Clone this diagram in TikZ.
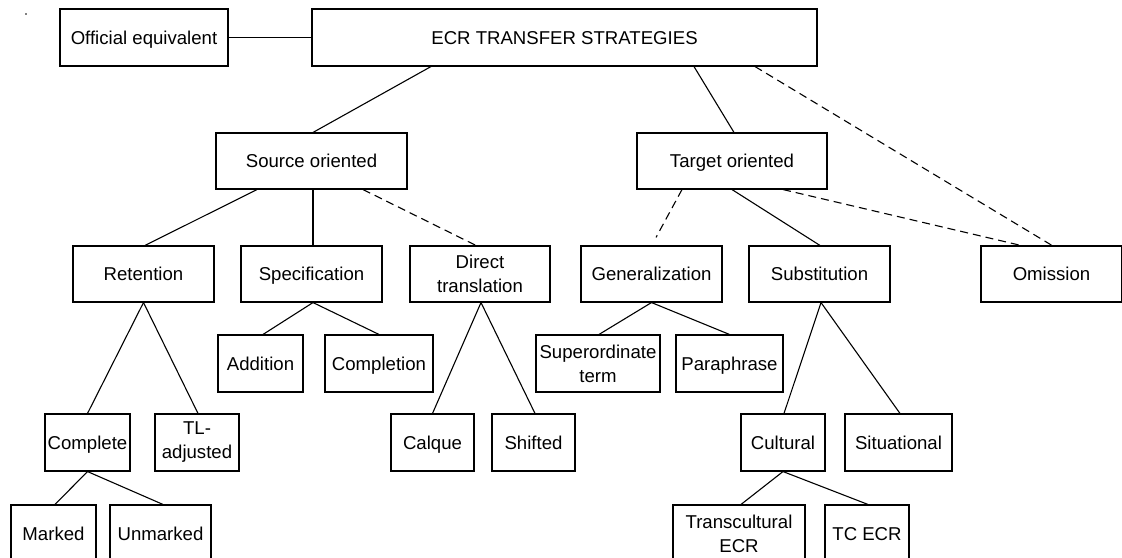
\documentclass[tikz,border=0pt]{standalone}
\usepackage{fontspec}
\setmainfont{Liberation Sans}
\begin{document}
\begin{tikzpicture}[x=1pt,y=-1pt,
  mbox/.style={draw, line width=1.1pt, inner sep=0pt, align=center, font=\fontsize{18.6}{24}\selectfont},
  sbox/.style={mbox, text height=13.4pt, text depth=0pt},
  link/.style={line width=1.1pt},
  dlink/.style={link, dash pattern=on 8pt off 5pt}]
\useasboundingbox (0,0) rectangle (1122,557);
\clip (0,0) rectangle (1122,557);
\fill (26,14) circle (0.8pt);
% row 0
\node[sbox, minimum width=168pt, minimum height=57pt] (off) at (144,37.5) {Official equivalent};
\node[sbox, minimum width=505pt, minimum height=57pt] (ecr) at (564.5,37.5) {ECR TRANSFER STRATEGIES};
% row 1
\node[sbox, minimum width=191pt, minimum height=56pt] (src) at (311.5,161) {Source oriented};
\node[sbox, minimum width=190pt, minimum height=56pt] (tgt) at (732,161) {Target oriented};
% row 2
\node[sbox, minimum width=141pt, minimum height=56pt] (ret) at (143.5,274) {Retention};
\node[sbox, minimum width=141pt, minimum height=56pt] (spec) at (311.5,274) {Specification};
\node[mbox, minimum width=140pt, minimum height=56pt] (dir) at (480,274) {Direct\\translation};
\node[sbox, minimum width=141pt, minimum height=56pt] (gen) at (651.5,274) {Generalization};
\node[sbox, minimum width=141pt, minimum height=56pt] (sub) at (819.5,274) {Substitution};
\node[sbox, minimum width=141pt, minimum height=56pt] (omi) at (1051.5,274) {Omission};
% row 3
\node[sbox, minimum width=85pt, minimum height=57pt] (add) at (260.5,363.5) {Addition};
\node[sbox, minimum width=108pt, minimum height=57pt] (comp) at (379,363.5) {Completion};
\node[mbox, minimum width=124pt, minimum height=57pt] (sup) at (598,363.5) {Superordinate\\term};
\node[sbox, minimum width=107pt, minimum height=57pt] (para) at (729.5,363.5) {Paraphrase};
% row 4
\node[sbox, minimum width=85pt, minimum height=57pt] (cplt) at (87.5,442.5) {Complete};
\node[mbox, minimum width=84pt, minimum height=57pt] (tla) at (197,442.5) {TL-\\adjusted};
\node[sbox, minimum width=83pt, minimum height=57pt] (calq) at (432.5,442.5) {Calque};
\node[sbox, minimum width=83pt, minimum height=57pt] (shif) at (533.5,442.5) {Shifted};
\node[sbox, minimum width=84pt, minimum height=57pt] (cult) at (783,442.5) {Cultural};
\node[sbox, minimum width=107pt, minimum height=57pt] (sit) at (898.5,442.5) {Situational};
% row 5
\node[sbox, minimum width=85pt, minimum height=57pt] (mark) at (53.5,533.5) {Marked};
\node[sbox, minimum width=101pt, minimum height=57pt] (unm) at (160.5,533.5) {Unmarked};
\node[mbox, minimum width=132pt, minimum height=57pt] (trc) at (739,533.5) {Transcultural\\ECR};
\node[sbox, minimum width=84pt, minimum height=57pt] (tce) at (867,533.5) {TC ECR};
% connectors
\draw[link] (off.east) -- (ecr.west);
\draw[link] ([xshift=-133.5pt]ecr.south) -- ([xshift=1.5pt]src.north);
\draw[link] ([xshift=129.5pt]ecr.south) -- ([xshift=2pt]tgt.north);
\draw[dlink] ([xshift=190.5pt]ecr.south) -- ([xshift=0.5pt]omi.north);
\draw[link] ([xshift=-54.5pt]src.south) -- ([xshift=1.5pt]ret.north);
\draw[link] ([xshift=1.5pt]src.south) -- ([xshift=1.5pt]spec.north);
\draw[dlink] ([xshift=51.5pt]src.south) -- ([xshift=-4pt]dir.north);
\coordinate (genend) at ([xshift=4.5pt,yshift=8pt]gen.north);
\draw[dlink] ([xshift=-50pt]tgt.south) -- (genend);
\draw[link] (tgt.south) -- ([xshift=0.5pt]sub.north);
\draw[dlink] ([xshift=51pt]tgt.south) -- ([xshift=-30.5pt]omi.north);
\draw[link] (ret.south) -- (cplt.north);
\draw[link] (ret.south) -- ([xshift=1pt]tla.north);
\draw[link] ([xshift=1.5pt]spec.south) -- ([xshift=2.5pt]add.north);
\draw[link] ([xshift=1.5pt]spec.south) -- (comp.north);
\draw[link] ([xshift=1pt]dir.south) -- (calq.north);
\draw[link] ([xshift=1pt]dir.south) -- ([xshift=1.5pt]shif.north);
\draw[link] (gen.south) -- ([xshift=1pt]sup.north);
\draw[link] (gen.south) -- (para.north);
\draw[link] ([xshift=1.5pt]sub.south) -- ([xshift=1pt]cult.north);
\draw[link] ([xshift=1.5pt]sub.south) -- ([xshift=1.5pt]sit.north);
\draw[link] (cplt.south) -- ([xshift=1.5pt]mark.north);
\draw[link] (cplt.south) -- ([xshift=2.5pt]unm.north);
\draw[link] (cult.south) -- ([xshift=2pt]trc.north);
\draw[link] (cult.south) -- ([xshift=1pt]tce.north);
\end{tikzpicture}
\end{document}
